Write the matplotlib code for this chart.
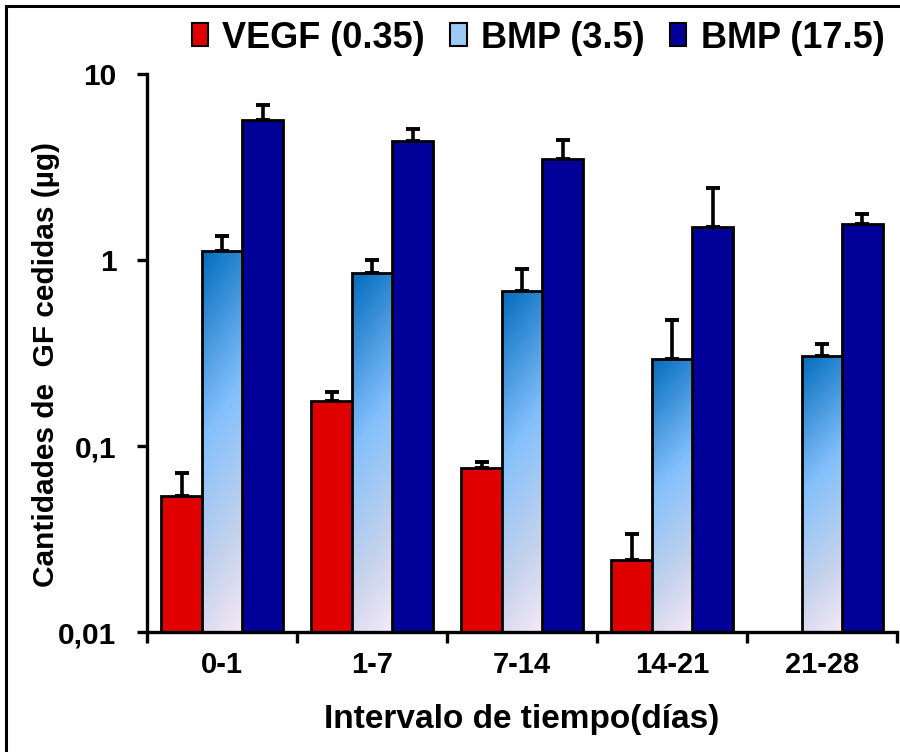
import numpy as np
import matplotlib
matplotlib.use("Agg")
import matplotlib.pyplot as plt
from matplotlib.patches import Rectangle, Patch
from matplotlib.colors import LinearSegmentedColormap
from matplotlib.ticker import FixedLocator, NullFormatter, FixedFormatter

# Released growth-factor amounts (µg) per time interval
intervals = ["0-1", "1-7", "7-14", "14-21", "21-28"]
series_names = ["VEGF (0.35)", "BMP (3.5)", "BMP (17.5)"]
vegf = [0.054, 0.175, 0.076, 0.0244, np.nan]
vegf_err = [0.018, 0.020, 0.006, 0.0093, np.nan]
bmp35 = [1.12, 0.85, 0.68, 0.294, 0.305]
bmp35_err = [0.23, 0.15, 0.215, 0.18, 0.048]
bmp175 = [5.66, 4.36, 3.49, 1.50, 1.56]
bmp175_err = [1.14, 0.70, 0.92, 0.94, 0.21]

yticks = [0.01, 0.1, 1, 10]
ytick_labels = ["0,01", "0,1", "1", "10"]

FONT = ["Liberation Sans", "DejaVu Sans"]
plt.rcParams["font.family"] = FONT
plt.rcParams["font.weight"] = "bold"

RED = "#e00000"
NAVY = "#000099"
grad_cmap = LinearSegmentedColormap.from_list(
    "bmpgrad",
    [(0.0, "#0870c0"), (0.42, "#84c0fc"), (0.75, "#c4d2ec"), (1.0, "#f7e9f7")],
)

fig = plt.figure(figsize=(9.0, 7.52), dpi=100)
ax = fig.add_axes([147 / 900, 1 - 632 / 752, 750 / 900, (632 - 74) / 752])

n = len(intervals)
x = np.arange(n)
w = 0.27
offsets = [-w, 0, w]
edge = dict(edgecolor="black", linewidth=2.0)
errkw = dict(ecolor="black", elinewidth=2.6, capsize=4.8, capthick=2.8)

ax.set_yscale("log")
ax.set_ylim(0.01, 10)
ax.set_xlim(-0.5, n - 0.5)

bars_v = ax.bar(x + offsets[0], vegf, w, color=RED, **edge, zorder=2)
bars_b = ax.bar(x + offsets[1], bmp35, w, color="none", **edge, zorder=3)
bars_n = ax.bar(x + offsets[2], bmp175, w, color=NAVY, **edge, zorder=2)

ax.errorbar(x + offsets[0], vegf, yerr=[np.zeros(n), vegf_err], fmt="none", zorder=1, **errkw)
ax.errorbar(x + offsets[1], bmp35, yerr=[np.zeros(n), bmp35_err], fmt="none", zorder=1, **errkw)
ax.errorbar(x + offsets[2], bmp175, yerr=[np.zeros(n), bmp175_err], fmt="none", zorder=1, **errkw)

# gradient fill for the BMP (3.5) bars, laid out in axes-fraction space
to_axes = ax.transScale + ax.transLimits
hh, ww = 300, 60
vv, uu = np.mgrid[0:1:hh * 1j, 0:1:ww * 1j]
tgrad = np.clip(0.88 * vv + 0.14 * uu - 0.02, 0, 1)
for b in bars_b:
    x0, y0 = b.get_x(), 0.01
    x1, y1 = b.get_x() + b.get_width(), b.get_height()
    (ax0, ay0), (ax1, ay1) = to_axes.transform([(x0, y0), (x1, y1)])
    im = ax.imshow(tgrad, cmap=grad_cmap, vmin=0, vmax=1, aspect="auto",
                   extent=[ax0, ax1, ay0, ay1], origin="upper",
                   transform=ax.transAxes, zorder=2.5, interpolation="bilinear")
    im.set_clip_path(b)

for s in ["top", "right"]:
    ax.spines[s].set_visible(False)
for s in ["left", "bottom"]:
    ax.spines[s].set_linewidth(2.4)

ax.yaxis.set_major_locator(FixedLocator(yticks))
ax.yaxis.set_major_formatter(FixedFormatter(ytick_labels))
ax.yaxis.set_minor_locator(FixedLocator([]))
ax.tick_params(axis="y", which="major", direction="out", length=7, width=2.4,
               pad=15, labelsize=21.5)

ax.xaxis.set_major_locator(FixedLocator(np.arange(n + 1) - 0.5))
ax.xaxis.set_major_formatter(NullFormatter())
ax.xaxis.set_minor_locator(FixedLocator(x))
ax.xaxis.set_minor_formatter(FixedFormatter(intervals))
ax.tick_params(axis="x", which="major", direction="out", length=8, width=2.4)
ax.tick_params(axis="x", which="minor", length=0, pad=14, labelsize=21)

for lab in ax.get_xticklabels(minor=True) + ax.get_yticklabels():
    lab.set_fontweight("bold")

ax.set_xlabel("Intervalo de tiempo(días)", fontsize=24, fontweight="bold", labelpad=18)
ax.set_ylabel("Cantidades de  GF cedidas (µg)", fontsize=21.5, fontweight="bold")
ax.yaxis.set_label_coords(-0.116, 0.48)

handles = [
    Patch(facecolor=RED, edgecolor="black", linewidth=1.5),
    Patch(facecolor="#9ccaf4", edgecolor="black", linewidth=1.5),
    Patch(facecolor=NAVY, edgecolor="black", linewidth=1.5),
]
fig.legend(handles, series_names, loc="center", bbox_to_anchor=(538 / 900, 1 - 38 / 752),
           ncol=3, frameon=False, handlelength=0.45, handleheight=0.62,
           handletextpad=0.4, columnspacing=0.7, prop={"weight": "bold", "size": 26})

# outer frame around the figure
fig.add_artist(Rectangle((6 / 900, -0.05), 1.0, 1 - 6 / 752 + 0.05, transform=fig.transFigure,
                         fill=False, edgecolor="black", linewidth=2.2))

fig.savefig("out.png", dpi=100)
